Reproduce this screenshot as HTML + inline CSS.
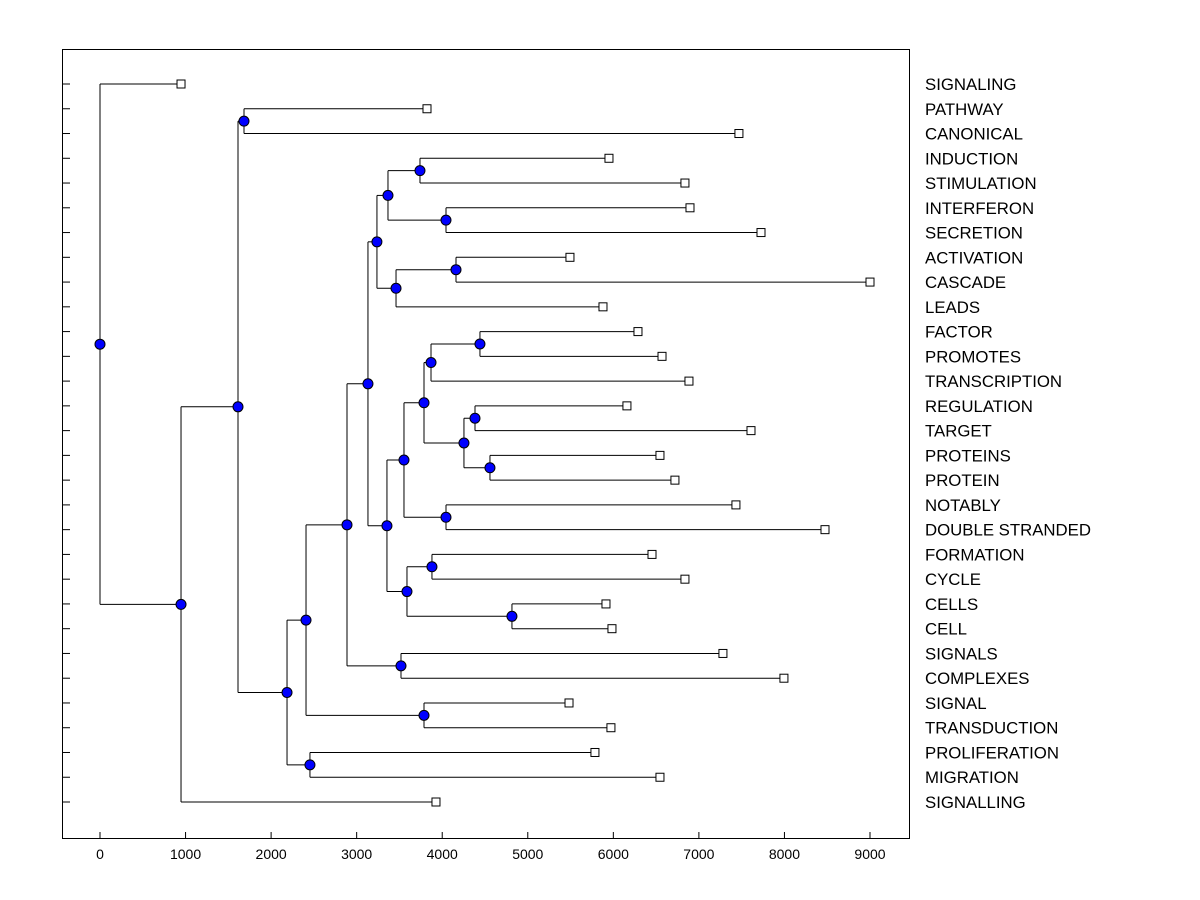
<!DOCTYPE html>
<html><head><meta charset="utf-8"><style>
body{margin:0;background:#fff;}
svg{display:block;font-family:"Liberation Sans",Arial,sans-serif;}
</style></head><body>
<svg id="chart" width="1200" height="900" viewBox="0 0 1200 900">
<rect x="62.5" y="49.5" width="847" height="789" fill="#fff" stroke="#000" stroke-width="1"/>
<g id="g"></g>
</svg>
<script>
const leafLabels=["SIGNALING","PATHWAY","CANONICAL","INDUCTION","STIMULATION","INTERFERON","SECRETION","ACTIVATION","CASCADE","LEADS","FACTOR","PROMOTES","TRANSCRIPTION","REGULATION","TARGET","PROTEINS","PROTEIN","NOTABLY","DOUBLE STRANDED","FORMATION","CYCLE","CELLS","CELL","SIGNALS","COMPLEXES","SIGNAL","TRANSDUCTION","PROLIFERATION","MIGRATION","SIGNALLING"];
const leafValues=[947,3822,7468,5949,6837,6896,7726,5493,9000,5879,6288,6569,6884,6159,7609,6545,6720,7433,8474,6452,6837,5914,5984,7281,7994,5482,5972,5785,6545,3927];
const nodeNames=["is","ii","a","ac","b","c","fp","d","rt","pr","e","f","nt","gg","fc","ce","h","i","j","sc","k","st","l","pm","m","pc","n","o","root"];
const nodeChildren=[[3,4],[5,6],["is","ii"],[7,8],["ac",9],["a","b"],[10,11],["fp",12],[13,14],[15,16],["rt","pr"],["d","e"],[17,18],["f","nt"],[19,20],[21,22],["fc","ce"],["gg","h"],["c","i"],[23,24],["j","sc"],[25,26],["k","st"],[27,28],["l","pm"],[1,2],["pc","m"],["n",29],[0,"o"]];
const nodeHeights=[3740,4044,3366,4161,3460,3237,4441,3869,4383,4558,4254,3787,4044,3553,3880,4815,3588,3354,3132,3518,2887,3787,2408,2454,2186,1683,1613,947,0];
const xTicks=[0,1000,2000,3000,4000,5000,6000,7000,8000,9000];

const NS="http://www.w3.org/2000/svg";
const g=document.getElementById('g');
const X=v=>100+v*(770/9000);
const Y=i=>84+i*(802-84)/29;
function mk(t,a){const e=document.createElementNS(NS,t);for(const k in a)e.setAttribute(k,a[k]);g.appendChild(e);return e;}
const pos={};
function get(c){if(typeof c==="number")return {x:X(leafValues[c]),y:Y(c)};return pos[c];}
const lines=[],dots=[];
nodeNames.forEach((n,k)=>{
 const px=X(nodeHeights[k]);
 const [a,b]=nodeChildren[k].map(get);
 pos[n]={x:px,y:(a.y+b.y)/2};
 lines.push([px,a.y,px,b.y]);
 lines.push([px,a.y,a.x,a.y]);
 lines.push([px,b.y,b.x,b.y]);
 dots.push(pos[n]);
});
lines.forEach(l=>{
 const e=mk('line',{x1:l[0],y1:l[1],x2:l[2],y2:l[3],stroke:'#000','stroke-width':1});
 
 
});
dots.forEach(d=>{
 const e=mk('circle',{cx:d.x,cy:d.y,r:5,fill:'#0000ff',stroke:'#000','stroke-width':1});
 
 
});
leafLabels.forEach((lab,i)=>{
 const y=Y(i),x=X(leafValues[i]);
 const t=mk('line',{x1:62,y1:y,x2:70,y2:y,stroke:'#000'});
 
 
 const s=mk('rect',{x:x-4,y:y-4,width:8,height:8,fill:'#fff',stroke:'#000'});
 
 
 const tx=mk('text',{x:925,y:y+6,'font-size':16.8,fill:'#000'});
 tx.textContent=lab;
 
 
});
xTicks.forEach(v=>{
 const x=X(v);
 const t=mk('line',{x1:x,y1:838,x2:x,y2:832,stroke:'#000'});
 
 
 const tx=mk('text',{x:x,y:859,'font-size':14,'text-anchor':'middle',fill:'#000'});
 tx.textContent=v;
 
 
});
</script>
</body></html>
